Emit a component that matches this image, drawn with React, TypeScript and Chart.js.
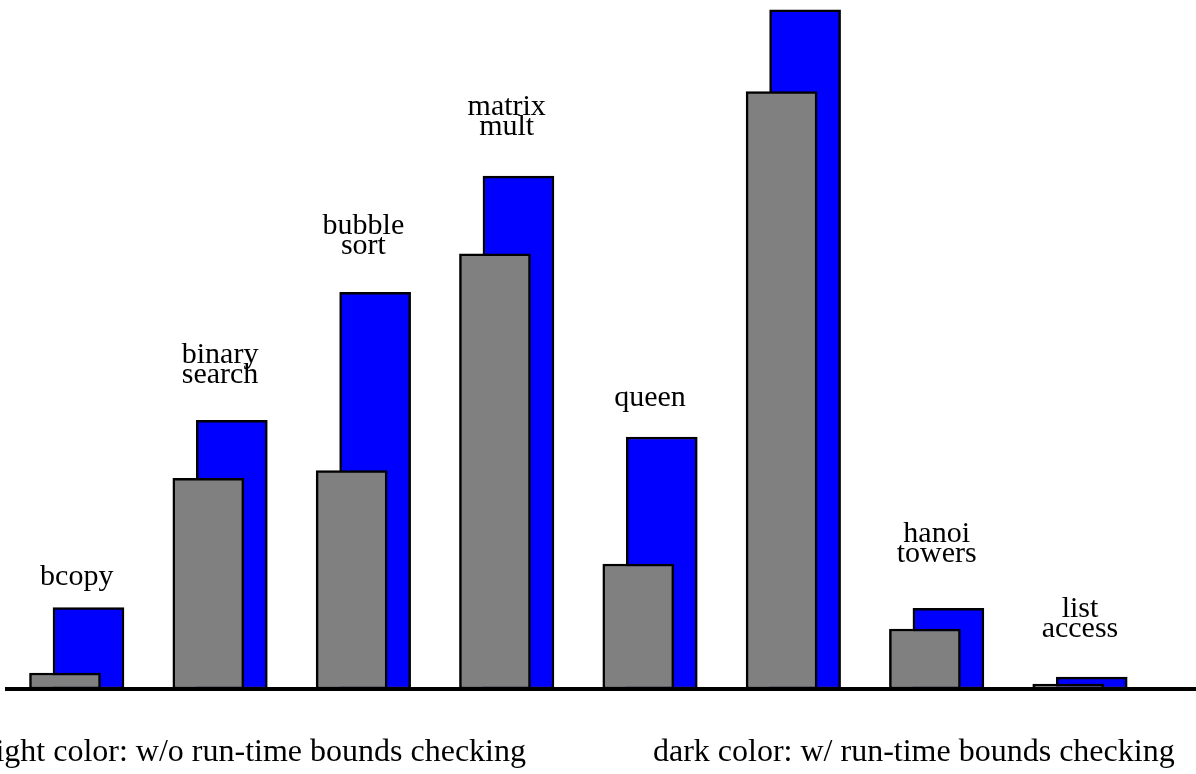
import React, { useEffect, useRef } from "react";
import { Chart, registerables } from "chart.js";

Chart.register(...registerables);

// Benchmark names (one entry per line of the label). The 6th label lies outside the picture.
const categories: string[][] = [
  ["bcopy"],
  ["binary", "search"],
  ["bubble", "sort"],
  ["matrix", "mult"],
  ["queen"],
  [],
  ["hanoi", "towers"],
  ["list", "access"],
];

// light color: without run-time bounds checking
const withoutChecking = [1.63, 21.4, 22.2, 44.2, 12.7, 60.7, 6.1, 0.5];
// dark color: with run-time bounds checking
const withChecking = [8.28, 27.3, 40.3, 52.1, 25.6, 69.0, 8.2, 1.2];
// level (in value units) of the baseline of each label's last line
const labelLevels = [10.57, 31.1, 44.2, 56.3, 28.75, 0, 12.9, 5.28];

const legendLight = "light color: w/o run-time bounds checking";
const legendDark = "dark color: w/ run-time bounds checking";

const LABEL_FONT = "30px 'Liberation Serif', serif";
const LEGEND_FONT = "32px 'Liberation Serif', serif";

const overlayPlugin = {
  id: "overlay",
  afterDatasetsDraw(chart: any) {
    const { ctx } = chart;
    const x = chart.scales.x;
    const y = chart.scales.y;
    ctx.save();
    // thick baseline
    ctx.fillStyle = "#000000";
    const y0 = y.getPixelForValue(0);
    ctx.fillRect(5, y0 - 2, chart.width - 5, 4);
    // group labels
    ctx.font = LABEL_FONT;
    ctx.textAlign = "center";
    ctx.textBaseline = "alphabetic";
    categories.forEach((lines, i) => {
      if (!lines.length) return;
      const cx = x.getPixelForValue(i);
      const by = y.getPixelForValue(labelLevels[i]);
      lines.forEach((t, k) => {
        ctx.fillText(t, cx, by - (lines.length - 1 - k) * 20);
      });
    });
    // bottom legend text
    ctx.font = LEGEND_FONT;
    ctx.textAlign = "right";
    ctx.fillText(legendLight, 526, 761);
    ctx.textAlign = "left";
    ctx.fillText(legendDark, 653, 761);
    ctx.restore();
  },
};

export default function App() {
  const canvasRef = useRef<HTMLCanvasElement | null>(null);

  useEffect(() => {
    const canvas = canvasRef.current;
    if (!canvas) return;
    const offset = 0.082;
    const chart = new Chart(canvas, {
      type: "bar",
      data: {
        datasets: [
          {
            label: "w/o run-time bounds checking",
            data: withoutChecking.map((v, i) => ({ x: i - offset, y: v })),
            backgroundColor: "#808080",
            borderColor: "#000000",
            borderWidth: 2.5,
            borderSkipped: false,
            barThickness: 71,
            grouped: false,
          } as any,
          {
            label: "w/ run-time bounds checking",
            data: withChecking.map((v, i) => ({ x: i + offset, y: v })),
            backgroundColor: "#0000ff",
            borderColor: "#000000",
            borderWidth: 2.5,
            borderSkipped: false,
            barThickness: 71,
            grouped: false,
          } as any,
        ],
      },
      options: {
        animation: false,
        responsive: false,
        layout: { padding: { left: 0, right: 0, top: 0, bottom: 85 } },
        scales: {
          x: {
            type: "linear",
            min: -0.5355,
            max: 7.8095,
            offset: false,
            display: false,
          },
          y: { min: 0, max: 70, display: false },
        },
        plugins: {
          legend: { display: false },
          tooltip: { enabled: false },
        },
      },
      plugins: [overlayPlugin],
    });
    return () => chart.destroy();
  }, []);

  return (
    <div
      style={{
        position: "fixed",
        left: 0,
        top: 0,
        width: 1196,
        height: 774,
        background: "#ffffff",
      }}
    >
      <canvas
        ref={canvasRef}
        width={1196}
        height={774}
        style={{ display: "block", width: 1196, height: 774 }}
      />
    </div>
  );
}
